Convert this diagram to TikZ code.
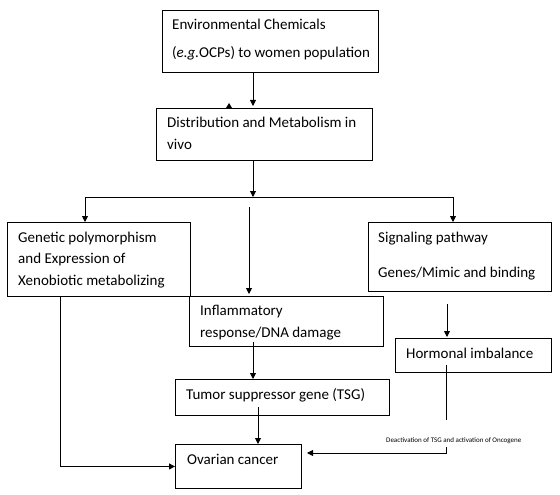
\documentclass[tikz,border=0pt]{standalone}
\usepackage{fontspec}
\setmainfont{Carlito}
\usetikzlibrary{arrows.meta}
\begin{document}
\begin{tikzpicture}[x=1pt,y=-1pt,
  box/.style={draw, line width=0.9pt, inner sep=0pt, anchor=north west},
  txt/.style={anchor=base west, inner sep=0pt, font=\fontsize{15}{18}\selectfont},
  small/.style={anchor=base west, inner sep=0pt, font=\fontsize{7}{8}\selectfont},
  link/.style={line width=0.9pt},
  arr/.style={link, -{Triangle[length=6pt,width=6pt]}}]
\useasboundingbox (0,0) rectangle (560,495);
\fill[white] (0,0) rectangle (560,495);
% boxes
\node[box, minimum width=216pt, minimum height=62pt] (env) at (162,10) {};
\node[box, minimum width=216pt, minimum height=52pt] (dist) at (156,108) {};
\node[box, minimum width=183pt, minimum height=74pt] (gen) at (7,222) {};
\node[box, minimum width=183pt, minimum height=69pt] (sig) at (368,222) {};
\node[box, minimum width=194pt, minimum height=50pt] (infl) at (189,296) {};
\node[box, minimum width=156pt, minimum height=34pt] (horm) at (395,338) {};
\node[box, minimum width=214pt, minimum height=36pt] (tsg) at (175,379) {};
\node[box, minimum width=126pt, minimum height=44pt] (ov) at (175,444) {};
% texts
\node[txt] (envA) at (172,30) {Environmental Chemicals};
\node[txt] (envB) at (172,58) {(\textit{e.g.}OCPs) to women population};
\node[txt] (distA) at (167,128) {Distribution and Metabolism in};
\node[txt] (distB) at (167,149) {vivo};
\node[txt] (genA) at (18,242) {Genetic polymorphism};
\node[txt] (genB) at (18,263) {and Expression of};
\node[txt] (genC) at (18,285) {Xenobiotic metabolizing};
\node[txt] (sigA) at (378,242) {Signaling pathway};
\node[txt] (sigB) at (378,277) {Genes/Mimic and binding};
\node[txt] (inflA) at (200,315) {Inflammatory};
\node[txt] (inflB) at (200,337) {response/DNA damage};
\node[txt] (hormA) at (406,358) {Hormonal imbalance};
\node[txt] (tsgA) at (186,399) {Tumor suppressor gene (TSG)};
\node[txt] (ovA) at (187,464) {Ovarian cancer};
\node[small] (deact) at (386,442) {Deactivation of TSG and activation of Oncogene};
% helper coordinates
\coordinate (cA) at (253,0);
\coordinate (bus) at (253,197);
\coordinate (busL) at (85,197);
\coordinate (busR) at (453,197);
\coordinate (midtop) at (249,207);
\coordinate (sigout) at (447,304);
\coordinate (inflout) at (253,342);
\coordinate (tsgout) at (258,407);
\coordinate (genx) at (60,0);
\coordinate (hormout) at (446,365);
\coordinate (gapTop) at (446,420);
\coordinate (gapBot) at (446,447);
\coordinate (joinR) at (446,453);
\coordinate (ovR) at (307,453);
% connectors
\draw[arr, shorten >=2pt] (env.south -| cA) -- (dist.north -| cA);
\draw[arr] (dist.south -| cA) -- (bus);
\draw[link] (busL) -- (busR);
\draw[arr] (busL) -- (gen.north -| busL);
\draw[arr] (busR) -- (sig.north -| busR);
\draw[arr, shorten >=2pt] (midtop) -- (infl.north -| midtop);
\draw[arr, shorten >=1pt] (sigout) -- (horm.north -| sigout);
\draw[arr] (inflout) -- (tsg.north -| inflout);
\draw[arr] (tsgout) -- (ov.north -| tsgout);
\draw[arr] (gen.south -| genx) |- (ov.west);
\draw[link] (hormout) -- (gapTop);
\draw[arr] (gapBot) -- (joinR) -- (ovR);
% stray arrowhead
\fill (226,108) -- (232,108) -- (229,103) -- cycle;
\end{tikzpicture}
\end{document}
